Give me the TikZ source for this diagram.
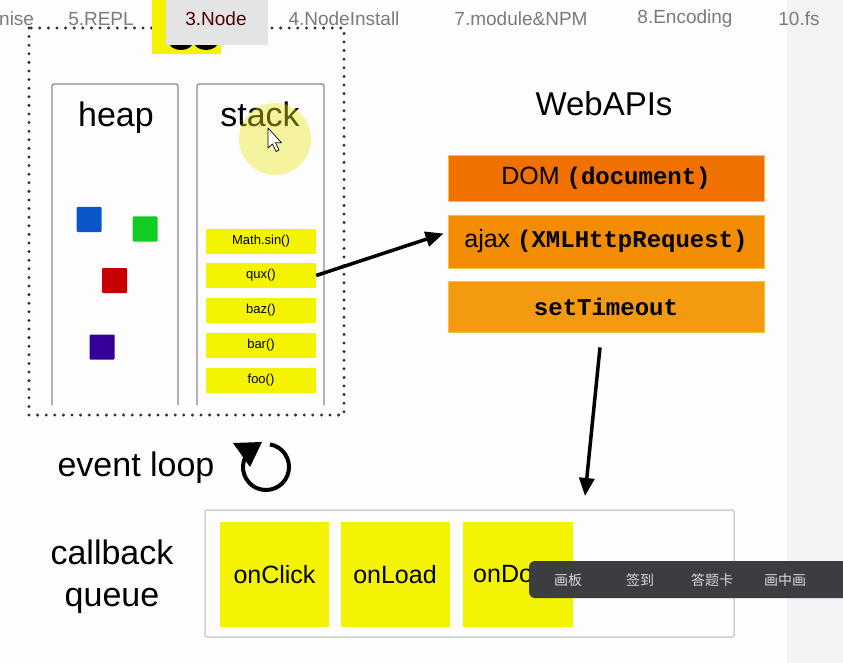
\documentclass[tikz,border=0pt]{standalone}
\usepackage{fontspec}
\setmainfont{Liberation Sans}
\newfontfamily\monob{Liberation Mono}
\newfontfamily\cjk{Noto Sans CJK SC}
\usetikzlibrary{arrows.meta}
\definecolor{pagebg}{HTML}{FDFDFD}
\definecolor{sidebg}{HTML}{F3F3F5}
\definecolor{tabgray}{HTML}{E4E4E6}
\definecolor{tabtext}{HTML}{7A7A80}
\definecolor{jsyellow}{HTML}{F4F400}
\definecolor{frameyellow}{HTML}{F4F400}
\definecolor{boxline}{HTML}{8A8A90}
\definecolor{domorange}{HTML}{F07000}
\definecolor{apiorange}{HTML}{F28C00}
\definecolor{toorange}{HTML}{F49A10}
\definecolor{apiedge}{HTML}{F8C040}
\definecolor{sqblue}{HTML}{0A55C8}
\definecolor{sqgreen}{HTML}{12CC22}
\definecolor{sqred}{HTML}{C80000}
\definecolor{sqpurple}{HTML}{330099}
\definecolor{qline}{HTML}{CFCFD4}
\definecolor{toolbar}{HTML}{3C3D41}
\definecolor{tooltext}{HTML}{D8D8DC}
\definecolor{hilite}{HTML}{EBE411}
\tikzset{
  tabtxt/.style={font=\fontsize{19}{21}\selectfont, text=tabtext, inner sep=0pt},
  biglabel/.style={font=\fontsize{34}{42}\selectfont, inner sep=0pt, align=center},
  framebox/.style={fill=frameyellow, minimum width=110pt, minimum height=25pt, inner sep=0pt, font=\fontsize{13}{15}\selectfont},
  apibox/.style={draw=apiedge, line width=0.8pt, minimum width=316pt, inner sep=0pt, font=\fontsize{25}{28}\selectfont},
  cbbox/.style={fill=jsyellow, minimum width=109pt, minimum height=105pt, inner sep=0pt, font=\fontsize{25}{28}\selectfont},
  heapsq/.style={minimum size=25pt, inner sep=0pt, rounded corners=1pt},
  colbox/.style={draw=boxline, line width=1.2pt, rounded corners=2pt},
  bigarrow/.style={line width=3.5pt, -{Triangle[length=18pt,width=15pt]}},
  tooltxt/.style={font=\cjk\fontsize{14}{16}\selectfont, text=tooltext, inner sep=0pt},
}
\begin{document}
\begin{tikzpicture}[x=1pt,y=-1pt]
\useasboundingbox (0,0) rectangle (843,663);
% page background
\fill[pagebg] (0,0) rectangle (843,663);
\fill[sidebg] (787,0) rectangle (843,663);

% dotted outer box
\draw[line width=3.3pt, line cap=round, dash pattern=on 0pt off 8.6pt, black!80] (29,28) rectangle (344,415);

% JS logo remnant behind the tab
\fill[jsyellow] (152,0) rectangle (221,54);
\fill[black] (181,42) ellipse (12pt and 8pt);
\fill[black] (206,42) ellipse (12pt and 8pt);

% tab bar
\fill[tabgray] (166,0) rectangle (268,45);
\node[tabtxt, anchor=west] (t1) at (-1,19) {nise};
\node[tabtxt] (t2) at (101,19) {5.REPL};
\node[tabtxt, text=black!70!red] (t3) at (216,19) {3.Node};
\node[tabtxt] (t4) at (344,19) {4.NodeInstall};
\node[tabtxt] (t5) at (521,19) {7.module\&NPM};
\node[tabtxt] (t6) at (685,19) {8.Encoding};
\node[tabtxt] (t7) at (799,19) {10.fs};

% heap and stack columns (open at the bottom)
\draw[colbox] (52,405) -- (52,84) -- (178,84) -- (178,405);
\draw[colbox] (197,405) -- (197,84) -- (324,84) -- (324,405);

\node[biglabel, anchor=base] (heap) at (116,127) {heap};
\node[biglabel, anchor=base] (stack) at (260,127) {stack};

% cursor highlight (over the text)
\fill[hilite, opacity=0.4] (275,139) circle (36pt);

% cursor
\filldraw[fill=white, draw=black, line width=0.7pt, line join=round]
  (268,128) -- (268,148) -- (272.5,144) -- (276,151.5) -- (279,150) -- (275.5,142.8) -- (281.5,142.8) -- cycle;

% heap objects
\node[heapsq, fill=sqblue] (hb) at (89,219.5) {};
\node[heapsq, fill=sqgreen] (hg) at (145,229) {};
\node[heapsq, fill=sqred] (hr) at (114.5,280.5) {};
\node[heapsq, fill=sqpurple] (hp) at (102,347) {};

% stack frames
\node[framebox] (fmath) at (261,241.5) {Math.sin()};
\node[framebox] (fqux) at (261,275.5) {qux()};
\node[framebox] (fbaz) at (261,310.5) {baz()};
\node[framebox] (fbar) at (261,345.5) {bar()};
\node[framebox] (ffoo) at (261,380) {foo()};

% Web APIs
\node[font=\fontsize{33}{38}\selectfont, inner sep=0pt, anchor=base] (webapis) at (604,116) {WebAPIs};
\node[apibox, fill=domorange, minimum height=46pt] (dom) at (606,178)
  {DOM {\monob\bfseries\fontsize{24}{28}\selectfont(document)}};
\node[apibox, fill=apiorange, minimum height=53pt] (ajax) at (606,241.5)
  {ajax {\monob\bfseries\fontsize{24}{28}\selectfont(XMLHttpRequest)}};
\node[apibox, fill=toorange, minimum height=51pt] (timeout) at (606,306.5)
  {\monob\bfseries\fontsize{24}{28}\selectfont setTimeout};

% arrows
\draw[bigarrow] (fqux.east) -- ([xshift=-4pt,yshift=8pt]ajax.west);
\coordinate (qtop) at (585,496);
\draw[bigarrow] ([xshift=-6pt,yshift=-15pt]timeout.south) -- (qtop);

% event loop
\node[biglabel, anchor=base] (evloop) at (136,476) {event loop};
\coordinate (loopc) at (266,467);
\draw[line width=4pt]
  ([shift={(-80:23)}]loopc) arc[start angle=-80, end angle=208, radius=23];
\fill[black] ([shift={(-4,-25)}]loopc) -- ([shift={(-33,-24)}]loopc) -- ([shift={(-16,0)}]loopc) -- cycle;

% callback queue
\node[biglabel, align=center] (cbq) at (112,577) {callback\\queue};
\node[draw=qline, line width=1.5pt, rounded corners=2pt, minimum width=529pt, minimum height=127pt, inner sep=0pt] (queue) at (469.5,573.5) {};
\node[cbbox] (onclick) at (274.5,574.5) {onClick};
\node[cbbox] (onload) at (395,574.5) {onLoad};
\node[cbbox, minimum width=110pt] (ondone) at (518,574.5) {};
\begin{scope}
  \clip (463,522) rectangle (529,627);
  \node[font=\fontsize{25}{28}\selectfont, inner sep=0pt, anchor=west] (ondonetxt) at (473,574.5) {onDo};
\end{scope}

% overlay toolbar
\fill[toolbar, rounded corners=6pt] (529,561) rectangle (860,598);
\node[tooltxt] (tb1) at (568,580) {画板};
\node[tooltxt] (tb2) at (640,580) {签到};
\node[tooltxt] (tb3) at (712,580) {答题卡};
\node[tooltxt] (tb4) at (785,580) {画中画};
\end{tikzpicture}
\end{document}
